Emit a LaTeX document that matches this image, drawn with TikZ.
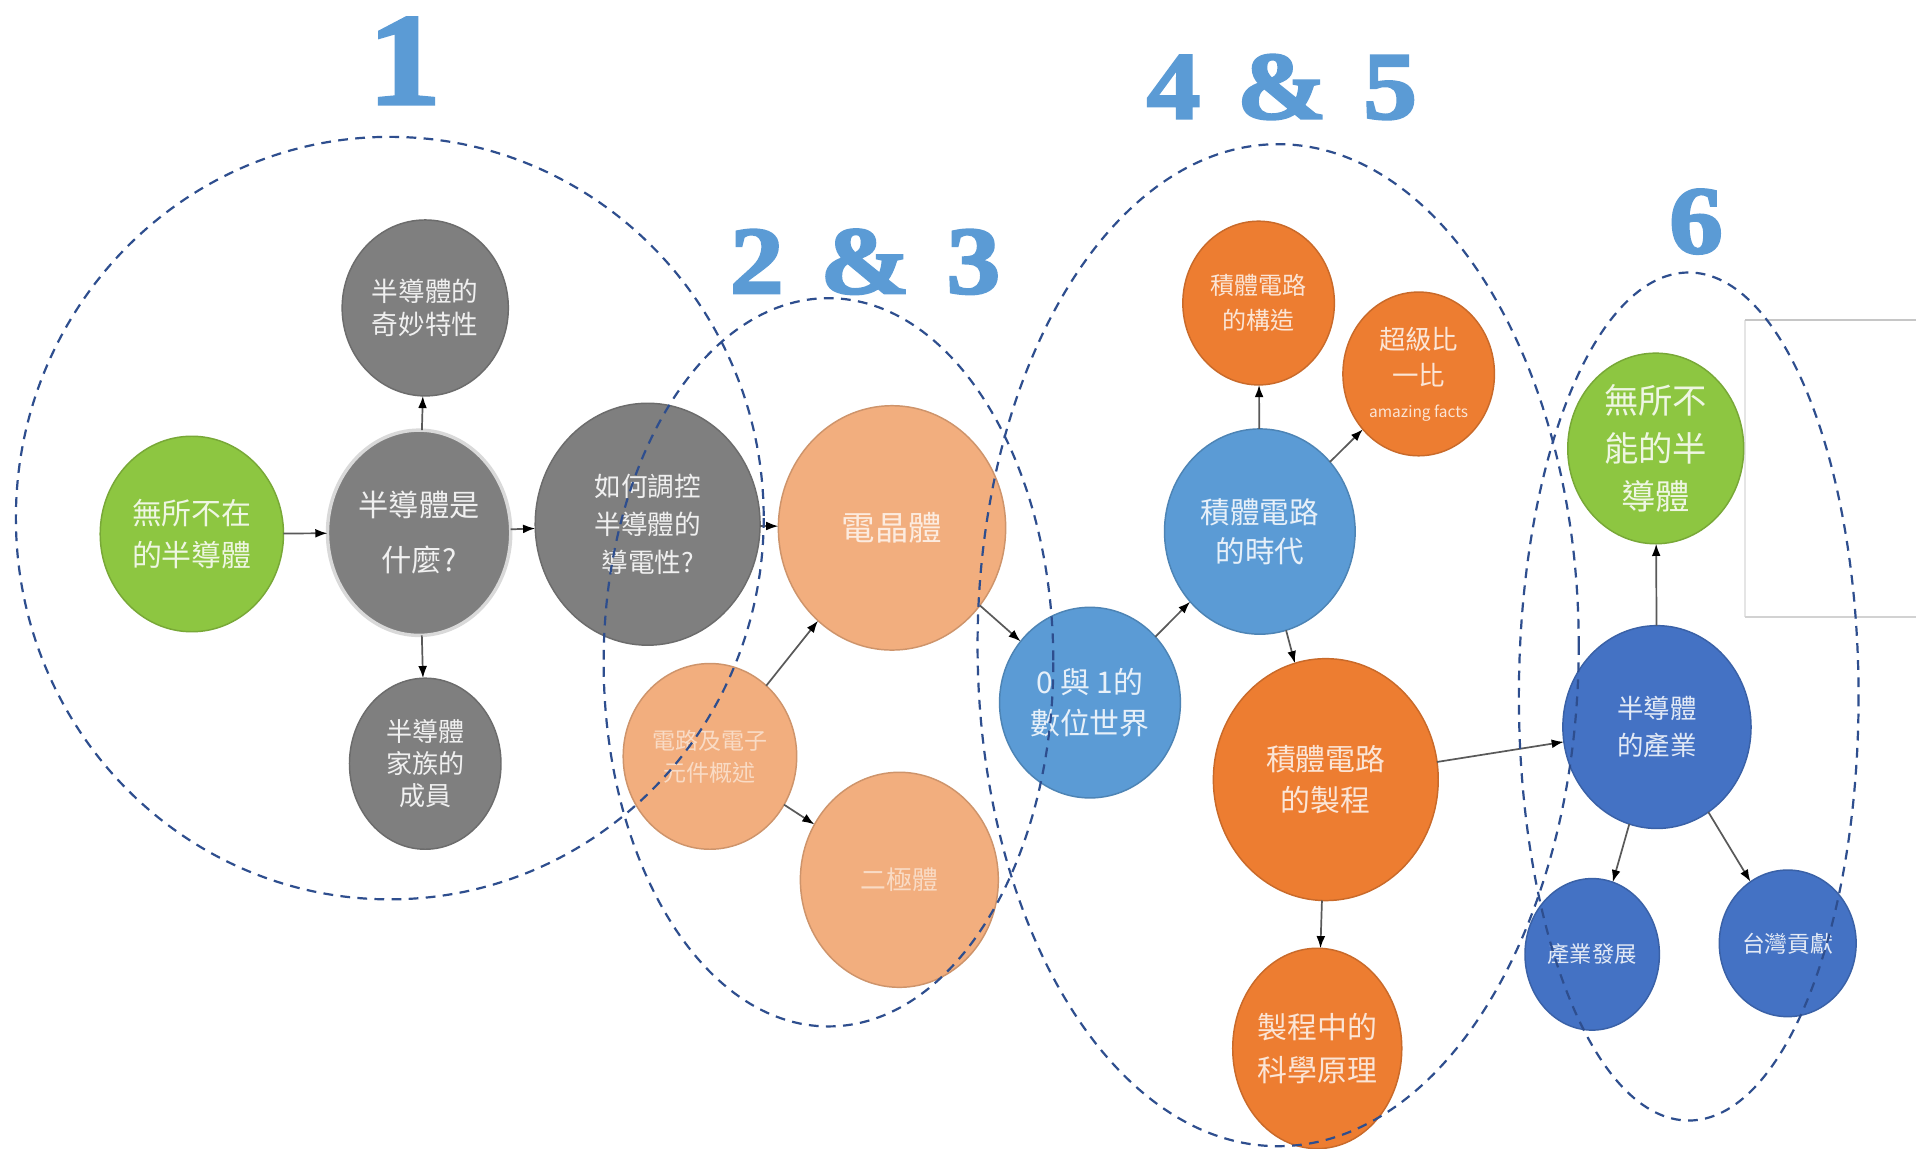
\documentclass[tikz,border=0pt]{standalone}
\usepackage{fontspec}
\setmainfont{Liberation Serif}
\newfontfamily\cjk{Noto Sans CJK TC}
\newfontfamily\lblfont[FakeBold=2.5,FakeStretch=1.12]{Liberation Serif Bold}
\usetikzlibrary{shapes.geometric,arrows.meta}
\definecolor{cGreen}{HTML}{8DC641}
\definecolor{cGray}{HTML}{7F7F7F}
\definecolor{cLOr}{HTML}{F2AE7E}
\definecolor{cOr}{HTML}{ED7D31}
\definecolor{cBlue}{HTML}{5B9BD5}
\definecolor{cDBlue}{HTML}{4472C4}
\definecolor{cDash}{HTML}{2E4E8E}
\definecolor{cLbl}{HTML}{5B9BD5}
\tikzset{
  blob/.style={ellipse, inner sep=0pt, outer sep=0pt, align=center, font=\cjk, line width=0.3mm},
  sz/.style 2 args={minimum width=#1*0.5mm, minimum height=#2*0.5mm},
  fs/.style 2 args={font=\cjk\fontsize{#1}{#2}\selectfont},
  gnode/.style={blob, fill=cGreen, draw=cGreen!85!black, text=white!85!cGreen},
  graynode/.style={blob, fill=cGray, draw=cGray!85!black, text=white!88!cGray},
  lornode/.style={blob, fill=cLOr, draw=cLOr!85!black, text=white!55!cLOr},
  ornode/.style={blob, fill=cOr, draw=cOr!85!black, text=white!80!cOr},
  bnode/.style={blob, fill=cBlue, draw=cBlue!85!black, text=white!85!cBlue},
  dbnode/.style={blob, fill=cDBlue, draw=cDBlue!85!black, text=white!85!cDBlue},
  arr/.style={draw=black!65, line width=0.35mm, -{Latex[length=2.5mm,width=1.8mm,color=black]}},
  grp/.style={draw=cDash, line width=0.45mm, dash pattern=on 2mm off 1.5mm},
  lbl/.style={text=cLbl, anchor=base, inner sep=0pt}
}
\begin{document}
\begin{tikzpicture}[x=0.25mm,y=-0.25mm]
\useasboundingbox (0,0) rectangle (1568,940);
\fill[white] (0,0) rectangle (1568,940);

% leftover panel on the right
\draw[gray!20, line width=0.3mm] (1428,262) -- (1428,505);
\draw[gray!45, line width=0.3mm] (1568,262) -- (1428,262);
\draw[gray!35, line width=0.3mm] (1428,505) -- (1568,505);

% group numbers
\node[lbl, font=\lblfont\fontsize{76}{76}\selectfont] (n1) at (331,85) {1};
\node[lbl, font=\lblfont\fontsize{56}{56}\selectfont] (n23) at (708,240) {2\hspace{0.38em}\&\hspace{0.38em}3};
\node[lbl, font=\lblfont\fontsize{56}{56}\selectfont] (n45) at (1049,97) {4\hspace{0.38em}\&\hspace{0.38em}5};
\node[lbl, font=\lblfont\fontsize{56}{56}\selectfont] (n6) at (1388,207) {6};

% nodes
\node[gnode, sz={75}{80}, fs={17.4}{24.5}] (a) at (157,437) {無所不在\\的半導體};
\node[graynode, draw=gray!30, line width=0.7mm, sz={75}{84}, fs={17.6}{32}] (b) at (343,436) {半導體是\\什麼?};
\node[graynode, sz={68}{72}, fs={15.5}{19.2}] (c) at (348,252) {半導體的\\奇妙特性};
\node[graynode, sz={62}{70}, fs={15.2}{18.8}] (d) at (348,625) {半導體\\家族的\\成員};
\node[graynode, sz={92}{99}, fs={15.5}{22}] (e) at (530,429) {如何調控\\半導體的\\導電性?};
\node[lornode, sz={93}{100}, fs={19.5}{24}, text=white!75!cLOr] (f) at (730,432) {電晶體};
\node[lornode, sz={71}{76}, fs={13.4}{18.5}] (g) at (581,619) {電路及電子\\元件概述};
\node[lornode, sz={81}{88}, fs={15}{20}] (h) at (736,720) {二極體};
\node[bnode, sz={74}{78}, fs={17.4}{24}] (i) at (892,575) {0 與 1的\\數位世界};
\node[bnode, sz={78}{84}, fs={17.2}{22.8}] (j) at (1031,435) {積體電路\\的時代};
\node[ornode, sz={62}{67}, fs={14}{20.6}] (k) at (1030,248) {積體電路\\的構造};
\node[ornode, sz={62}{67}, fs={15.4}{21.3}] (l) at (1161,306) {超級比\\一比\\[-3pt]{\fontsize{9}{10}\selectfont amazing facts}};
\node[ornode, sz={92}{99}, fs={17.4}{24}] (m) at (1085,638) {積體電路\\的製程};
\node[ornode, sz={64}{82}, fs={17.4}{24.9}] (o) at (1078,858) {製程中的\\科學原理};
\node[gnode, sz={72}{78}, fs={20}{27.7}] (p) at (1355,367) {無所不\\能的半\\導體};
\node[dbnode, sz={77}{83}, fs={15.4}{21.3}] (q) at (1356,595) {半導體\\的產業};
\node[dbnode, sz={55}{62}, fs={13}{16}] (r) at (1303,781) {產業發展};
\node[dbnode, sz={56}{60}, fs={13.3}{16}] (s) at (1463,772) {台灣貢獻};

% connectors
\draw[arr] (a) -- (b);
\draw[arr] (b) -- (c);
\draw[arr] (b) -- (d);
\draw[arr] (b) -- (e);
\draw[arr] (e) -- (f);
\draw[arr] (g) -- (f);
\draw[arr] (g) -- (h);
\draw[arr] (f) -- (i);
\draw[arr] (i) -- (j);
\draw[arr] (j) -- (k);
\draw[arr] (j) -- (l);
\draw[arr] (j) -- (m);
\draw[arr] (m) -- (o);
\draw[arr] (m) -- (q);
\draw[arr] (q) -- (p);
\draw[arr] (q) -- (r);
\draw[arr] (q) -- (s);

% dashed group outlines
\draw[grp] (319,424) ellipse [x radius=306, y radius=312];
\draw[grp] (678,542) ellipse [x radius=184, y radius=298];
\draw[grp] (1046,528) ellipse [x radius=246, y radius=410];
\draw[grp] (1382,570) ellipse [x radius=139, y radius=347];
\end{tikzpicture}
\end{document}
